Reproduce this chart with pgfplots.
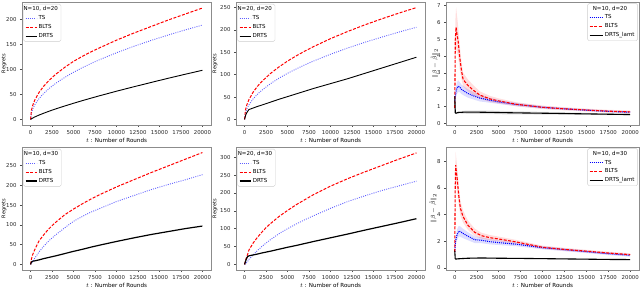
\documentclass[border=0pt]{standalone}
\usepackage{pgfplots}
\pgfplotsset{compat=1.18}
\usepackage{pgfplotstable}
\usepackage{fontspec}
\setmainfont{DejaVu Sans}

\definecolor{tsblue}{RGB}{95,95,255}

\pgfplotstableread{
t ts blts drts
0 0 0 0
100 13.3 18.4 1.4
250 21.0 28.3 2.9
500 29.7 39.2 5.1
1000 42.0 54.3 8.9
1500 51.5 65.7 12.3
2000 59.4 75.2 15.5
2500 66.5 83.6 18.6
3000 72.8 91.0 21.5
4000 84.1 104.2 27.0
5000 94.0 115.8 32.3
6000 103.0 125.5 37.4
7000 111.2 134.5 42.3
8000 118.9 142.5 47.1
10000 132.9 158.0 56.3
12000 145.6 172.0 65.1
14000 157.3 185.0 73.6
16000 168.1 198.0 82.0
18000 178.4 210.0 90.1
20000 188.0 222.0 98.0
}\tabA

\pgfplotstableread{
t ts blts drts
0 0 0 0
100 14.6 20.7 8
250 23.0 31.9 15
500 32.6 44.1 22
1000 46.1 61.1 25.5
1500 56.4 74.0 29
2000 65.1 84.7 32
3000 79.8 102.5 38.5
4000 92.1 117.3 45
5000 103.0 130.4 51
6000 112.8 142.0 57
7000 121.9 152.6 63
8000 130.3 162.5 69
10000 145.7 180.5 80
12000 159.6 196.6 91
14000 172.4 211.4 103
16000 184.2 225.1 115
18000 195.4 237.9 127
20000 206.0 250.0 139
}\tabB

\pgfplotstableread{
t ts blts drts
0 0 0 0
100 3 14 6
250 8 25 8
500 16 38 9
1000 32 60 11.5
1500 45 74 14.5
2000 57 87 17
2500 67 98 19.5
3000 76 108 22
4000 93 126 27.5
5000 109 140 33
6000 121 153 38
7000 132 165 43.5
8000 141 176 48.5
10000 159 196 58
12000 174 214 67
14000 189 232 75.5
16000 202 249 83
18000 214 266 90.5
20000 227 283 97
}\tabD

\pgfplotstableread{
t ts blts drts
0 0 0 0
100 2 10 8
200 4 18 15
350 8 28 22
500 14 40 24
1000 27 60 26.5
1500 39 76 29
2000 50 90 32
2500 60 103 34.5
3000 69 114 37
4000 86 134 42.5
5000 100 151 48
6000 113 167 53
7000 125 181 58.5
8000 136 195 64
10000 157 219 74.5
12000 176 240 85
14000 192 259 96
16000 207 277 106.5
18000 220 295 117
20000 233 312 128
}\tabE

\pgfplotstableread{
t r b k
0 0.9 1.3 1.6
60 5.0 1.6 0.62
150 5.7 1.9 0.6
250 5.3 2.1 0.62
380 4.9 2.2 0.64
570 3.9 2.15 0.65
760 3.15 2.02 0.65
950 2.6 1.95 0.66
1500 2.25 1.77 0.66
2100 1.97 1.64 0.66
2840 1.68 1.5 0.66
4000 1.45 1.37 0.65
5000 1.33 1.27 0.64
7000 1.13 1.12 0.62
10000 0.95 0.95 0.6
12500 0.86 0.86 0.58
15000 0.79 0.78 0.56
17500 0.72 0.71 0.54
20000 0.68 0.66 0.52
}\tabC

\pgfplotstableread{
t r b k
0 1.2 1.2 1.3
50 6.0 1.7 0.7
100 7.7 2.0 0.67
180 7.2 2.3 0.67
270 6.7 2.5 0.68
450 5.45 2.75 0.69
640 4.46 2.72 0.7
950 3.84 2.58 0.71
1500 3.2 2.38 0.73
2270 2.67 2.12 0.74
3030 2.42 2.08 0.75
3980 2.27 1.97 0.74
5000 2.17 1.9 0.73
7000 1.95 1.78 0.72
10000 1.55 1.52 0.7
12500 1.39 1.37 0.68
15000 1.26 1.22 0.66
17500 1.12 1.07 0.64
20000 1.0 0.95 0.63
}\tabF

\tikzset{
  tsl/.style={tsblue, line width=0.9pt, dash pattern=on 0.9pt off 1.3pt},
  bll/.style={red, line width=1.0pt, dash pattern=on 3pt off 1.5pt},
  drl/.style={black, line width=0.9pt},
  tse/.style={blue, line width=1.1pt, dash pattern=on 1pt off 1pt},
  ble/.style={red, line width=1.1pt, dash pattern=on 3pt off 1.5pt},
  dre/.style={black, line width=1.1pt},
}

\pgfplotsset{
  base/.style={
    scale only axis, anchor=south west, height=123pt, width=189pt,
    xmin=-1000, xmax=21000, xtick={0,2500,...,20000},
    scaled x ticks=false, scaled y ticks=false,
    /pgf/number format/assume math mode=true,
    /pgf/number format/1000 sep={},
    tick label style={font=\fontsize{5.4}{6}\selectfont, text=black!85},
    axis line style={black!45, line width=0.5pt},
    tick style={black!70, line width=0.4pt},
    tick align=outside, major tick length=2pt, tick pos=left,
    xlabel={$t$ : Number of Rounds},
    xlabel style={font=\fontsize{5.6}{6}\selectfont, at={(axis description cs:0.5,-0.122)}, anchor=center},
    ylabel style={font=\fontsize{5}{6}\selectfont, anchor=center},
    legend cell align=left,
    legend style={font=\fontsize{5.5}{6.5}\selectfont, draw=black!20, rounded corners=1.5pt,
      fill=white, inner xsep=1.5pt, inner ysep=1pt, nodes={inner sep=1.6pt, text depth=0.15em}},
    legend image code/.code={\draw[##1] (0pt,0pt) -- (11pt,0pt);},
  },
  reg/.style={base, ylabel={Regrets},
    legend style={at={(axis description cs:0.007,0.984)}, anchor=north west}},
  err/.style={base, width=193pt, ylabel={$\|\beta-\hat{\beta}\|_2$},
    ylabel style={font=\fontsize{6}{7}\selectfont},
    legend image code/.code={\draw[##1] (0pt,0pt) -- (13pt,0pt);},
    legend style={at={(axis description cs:0.994,0.99)}, anchor=north east}},
  band/.style={draw=none, fill opacity=0.13, forget plot},
}

\begin{document}
\begin{tikzpicture}
\useasboundingbox (0,0) rectangle (640pt,287pt);

% Panel 1
\begin{axis}[reg, at={(22pt,162pt)}, ymin=-11, ymax=234, ytick={0,50,...,200},
  ylabel style={at={(axis description cs:-0.095,0.5)}}]
\addlegendimage{empty legend}\addlegendentry{\hspace{-15pt}N=10, d=20}
\addplot[tsl] table[x=t,y=ts]{\tabA};\addlegendentry{TS}
\addplot[bll] table[x=t,y=blts]{\tabA};\addlegendentry{BLTS}
\addplot[drl] table[x=t,y=drts]{\tabA};\addlegendentry{DRTS}
\end{axis}

% Panel 2
\begin{axis}[reg, at={(236pt,162pt)}, ymin=-12.5, ymax=262.5, ytick={0,50,...,250},
  ylabel style={at={(axis description cs:-0.111,0.5)}}]
\addlegendimage{empty legend}\addlegendentry{\hspace{-15pt}N=20, d=20}
\addplot[tsl] table[x=t,y=ts]{\tabB};\addlegendentry{TS}
\addplot[bll] table[x=t,y=blts]{\tabB};\addlegendentry{BLTS}
\addplot[drl] table[x=t,y=drts]{\tabB};\addlegendentry{DRTS}
\end{axis}

% Panel 3
\begin{axis}[err, at={(446pt,162pt)}, ymin=-0.1, ymax=7.2, ytick={0,1,...,7},
  ylabel style={at={(axis description cs:-0.06,0.5)}}]
\addlegendimage{empty legend}\addlegendentry{\hspace{-12pt}N=10, d=20}
\addplot[band, fill=black] coordinates {(0,1.65) (60,0.67) (150,0.65) (250,0.67) (380,0.70) (570,0.71) (760,0.72) (950,0.74) (1500,0.76) (2100,0.76) (2840,0.76) (4000,0.75) (5000,0.74) (7000,0.71) (10000,0.68) (12500,0.65) (15000,0.62) (17500,0.59) (20000,0.57) (20000,0.47) (17500,0.49) (15000,0.5) (12500,0.51) (10000,0.52) (7000,0.53) (5000,0.54) (4000,0.55) (2840,0.56) (2100,0.56) (1500,0.56) (950,0.58) (760,0.58) (570,0.59) (380,0.58) (250,0.57) (150,0.55) (60,0.57) (0,1.55)};
\addplot[band, fill=blue] coordinates {(0,1.45) (60,1.85) (150,2.2) (250,2.45) (380,2.55) (570,2.45) (760,2.3) (950,2.22) (1500,2.02) (2100,1.86) (2840,1.7) (4000,1.52) (5000,1.39) (7000,1.22) (10000,1.03) (12500,0.93) (15000,0.84) (17500,0.77) (20000,0.72) (20000,0.6) (17500,0.65) (15000,0.72) (12500,0.79) (10000,0.87) (7000,1.02) (5000,1.15) (4000,1.22) (2840,1.3) (2100,1.42) (1500,1.52) (950,1.68) (760,1.74) (570,1.85) (380,1.85) (250,1.75) (150,1.6) (60,1.35) (0,1.15)};
\addplot[band, fill=red] coordinates {(0,1.1) (60,6.0) (150,6.9) (250,6.4) (380,5.8) (570,4.6) (760,3.65) (950,3.0) (1500,2.6) (2100,2.27) (2840,1.9) (4000,1.63) (5000,1.48) (7000,1.25) (10000,1.05) (12500,0.95) (15000,0.87) (17500,0.8) (20000,0.76) (20000,0.6) (17500,0.64) (15000,0.71) (12500,0.77) (10000,0.85) (7000,1.01) (5000,1.18) (4000,1.27) (2840,1.46) (2100,1.67) (1500,1.9) (950,2.2) (760,2.65) (570,3.2) (380,4.0) (250,4.2) (150,4.5) (60,4.0) (0,0.7)};
\addplot[tse] table[x=t,y=b]{\tabC};\addlegendentry{TS}
\addplot[ble] table[x=t,y=r]{\tabC};\addlegendentry{BLTS}
\addplot[dre] table[x=t,y=k]{\tabC};\addlegendentry{DRTS\_lamt}
\end{axis}

% Panel 4
\begin{axis}[reg, at={(22pt,17pt)}, ymin=-14.2, ymax=297, ytick={0,50,...,250},
  ylabel style={at={(axis description cs:-0.095,0.5)}}]
\addlegendimage{empty legend}\addlegendentry{\hspace{-15pt}N=10, d=30}
\addplot[tsl] table[x=t,y=ts]{\tabD};\addlegendentry{TS}
\addplot[bll] table[x=t,y=blts]{\tabD};\addlegendentry{BLTS}
\addplot[drl, line width=1.2pt] table[x=t,y=drts]{\tabD};\addlegendentry{DRTS}
\end{axis}

% Panel 5
\begin{axis}[reg, at={(236pt,17pt)}, ymin=-15.6, ymax=328.6, ytick={0,50,...,300},
  ylabel style={at={(axis description cs:-0.111,0.5)}}]
\addlegendimage{empty legend}\addlegendentry{\hspace{-15pt}N=20, d=30}
\addplot[tsl] table[x=t,y=ts]{\tabE};\addlegendentry{TS}
\addplot[bll] table[x=t,y=blts]{\tabE};\addlegendentry{BLTS}
\addplot[drl, line width=1.2pt] table[x=t,y=drts]{\tabE};\addlegendentry{DRTS}
\end{axis}

% Panel 6
\begin{axis}[err, at={(446pt,17pt)}, ymin=-0.15, ymax=9.05, ytick={0,2,...,8},
  ylabel style={at={(axis description cs:-0.067,0.5)}}]
\addlegendimage{empty legend}\addlegendentry{\hspace{-12pt}N=10, d=30}
\addplot[band, fill=black] coordinates {(0,1.4) (50,0.74) (100,0.71) (180,0.71) (270,0.72) (450,0.73) (640,0.74) (950,0.75) (1500,0.77) (2270,0.78) (3030,0.79) (3980,0.78) (5000,0.77) (7000,0.76) (10000,0.74) (12500,0.72) (15000,0.7) (17500,0.68) (20000,0.67) (20000,0.59) (17500,0.6) (15000,0.62) (12500,0.64) (10000,0.66) (7000,0.68) (5000,0.69) (3980,0.7) (3030,0.71) (2270,0.7) (1500,0.69) (950,0.67) (640,0.66) (450,0.65) (270,0.64) (180,0.63) (100,0.63) (50,0.66) (0,1.2)};
\addplot[band, fill=blue] coordinates {(0,1.4) (50,1.95) (100,2.3) (180,2.65) (270,2.9) (450,3.15) (640,3.1) (950,2.93) (1500,2.68) (2270,2.37) (3030,2.3) (3980,2.17) (5000,2.08) (7000,1.93) (10000,1.64) (12500,1.48) (15000,1.32) (17500,1.17) (20000,1.05) (20000,0.85) (17500,0.97) (15000,1.12) (12500,1.26) (10000,1.4) (7000,1.63) (5000,1.72) (3980,1.77) (3030,1.86) (2270,1.87) (1500,2.08) (950,2.23) (640,2.34) (450,2.35) (270,2.1) (180,1.95) (100,1.7) (50,1.45) (0,1.0)};
\addplot[band, fill=red] coordinates {(0,1.4) (50,6.8) (100,8.7) (180,8.15) (270,7.6) (450,6.15) (640,5.01) (950,4.29) (1500,3.55) (2270,2.95) (3030,2.64) (3980,2.47) (5000,2.35) (7000,2.1) (10000,1.67) (12500,1.5) (15000,1.36) (17500,1.22) (20000,1.1) (20000,0.9) (17500,1.02) (15000,1.16) (12500,1.28) (10000,1.43) (7000,1.8) (5000,1.99) (3980,2.07) (3030,2.2) (2270,2.39) (1500,2.85) (950,3.39) (640,3.91) (450,4.75) (270,5.8) (180,6.25) (100,6.7) (50,5.2) (0,1.0)};
\addplot[tse] table[x=t,y=b]{\tabF};\addlegendentry{TS}
\addplot[ble] table[x=t,y=r]{\tabF};\addlegendentry{BLTS}
\addplot[dre] table[x=t,y=k]{\tabF};\addlegendentry{DRTS\_lamt}
\end{axis}
\end{tikzpicture}
\end{document}
